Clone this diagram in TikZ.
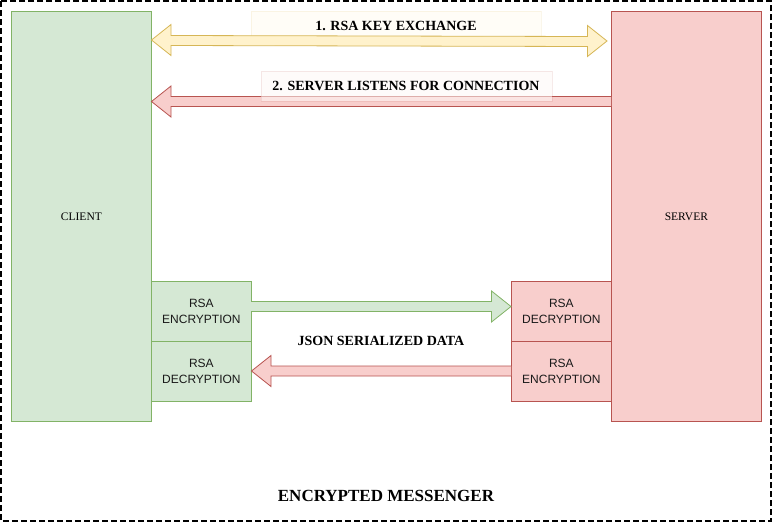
\documentclass[tikz,border=0pt]{standalone}
\usepackage{fontspec}
\setmainfont{Liberation Serif}
\newfontfamily\hsans{Liberation Sans}
\definecolor{gfill}{HTML}{D5E8D4}
\definecolor{gline}{HTML}{82B366}
\definecolor{rfill}{HTML}{F8CECC}
\definecolor{rline}{HTML}{B85450}
\definecolor{yfill}{HTML}{FFF2CC}
\definecolor{yline}{HTML}{D6B656}
\tikzset{
  gbox/.style={draw=gline,fill=gfill,line width=0.8pt,inner sep=0pt,anchor=north west},
  rbox/.style={draw=rline,fill=rfill,line width=0.8pt,inner sep=0pt,anchor=north west},
  bigtxt/.style={font=\fontsize{11.5}{13}\selectfont,text=black},
  rsatxt/.style={font=\hsans\fontsize{12}{15.5}\selectfont,align=center,text=black!90},
  lbl/.style={font=\bfseries\fontsize{14}{16}\selectfont},
  lblbox/.style={fill opacity=0.55,draw opacity=0.12,line width=0.8pt},
  fat/.style={line width=0.8pt,line join=miter}
}
\begin{document}
\begin{tikzpicture}[x=1pt,y=-1pt]
\useasboundingbox (0,0) rectangle (772,522);
\fill[white] (0,0) rectangle (772,522);
\draw[line width=1.5pt,dash pattern=on 6pt off 3pt] (1,1) rectangle (771,521);

% main boxes
\node[gbox,minimum width=140pt,minimum height=410pt] (client) at (11,11) {};
\node[bigtxt] at (client.center) {CLIENT};
\node[rbox,minimum width=150pt,minimum height=410pt] (server) at (611,11) {};
\node[bigtxt] at (server.center) {SERVER};

% RSA boxes
\node[gbox,minimum width=100pt,minimum height=60pt] (cenc) at (151,281) {};
\node[rsatxt] at (cenc.center) {RSA\\ENCRYPTION};
\node[gbox,minimum width=100pt,minimum height=60pt] (cdec) at (151,341) {};
\node[rsatxt] at (cdec.center) {RSA\\DECRYPTION};
\node[rbox,minimum width=100pt,minimum height=60pt] (sdec) at (511,281) {};
\node[rsatxt] at (sdec.center) {RSA\\DECRYPTION};
\node[rbox,minimum width=100pt,minimum height=60pt] (senc) at (511,341) {};
\node[rsatxt] at (senc.center) {RSA\\ENCRYPTION};

% label box 1
\draw[lblbox,draw=yline,fill=yfill!25] (251,11) rectangle (541,41);

% arrow 1 (double, yellow)
\draw[fat,draw=yline,fill=yfill]
  (151.5,40) -- (171,24.5) -- (171,35.5) -- (587.5,36.5) -- (587.5,25.5) -- (607,41)
  -- (587.5,56.5) -- (587.5,46.5) -- (171,45.5) -- (171,55.5) -- cycle;
\node[lbl] (l1) at (396,25.5) {1. RSA KEY EXCHANGE};

% arrow 2 (red, leftwards)
\draw[fat,draw=rline,fill=rfill]
  (611,96.5) -- (171,96.5) -- (171,86) -- (151.5,101.5) -- (171,117) -- (171,106.5) -- (611,106.5);
\draw[lblbox,draw=rline,fill=rfill!15] (261,71) rectangle (552,101);
\node[lbl] (l2) at (406,85.5) {2. SERVER LISTENS FOR CONNECTION};

% green arrow
\draw[fat,draw=gline,fill=gfill]
  (251,301.5) -- (491.5,301.5) -- (491.5,291) -- (511,306.5) -- (491.5,322) -- (491.5,311.5) -- (251,311.5);
% red bottom arrow
\draw[fat,draw=rline,fill=rfill]
  (511,366) -- (271,366) -- (271,355.5) -- (251.5,371) -- (271,386.5) -- (271,376) -- (511,376);

\node[lbl] (json) at (381,340.5) {JSON SERIALIZED DATA};
\node[font=\bfseries\fontsize{17}{20}\selectfont] (title) at (386,496) {ENCRYPTED MESSENGER};
\end{tikzpicture}
\end{document}
